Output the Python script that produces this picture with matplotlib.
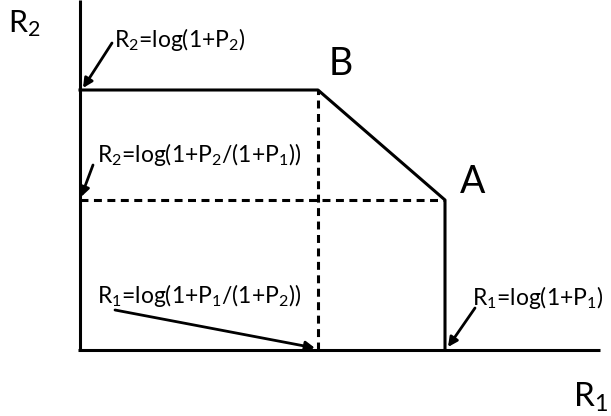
import matplotlib
matplotlib.use("Agg")
import matplotlib.pyplot as plt

plt.rcParams.update({
    'font.family': ['Lato', 'DejaVu Sans'],
    'mathtext.fontset': 'custom',
    'mathtext.rm': 'Lato',
    'mathtext.default': 'regular',
})

# corner points of the rate region (B, A), arbitrary units
corner_names = ['B', 'A']
corner_r1 = [2.38, 3.65]   # log(1+P1/(1+P2)), log(1+P1)
corner_r2 = [2.60, 1.50]   # log(1+P2), log(1+P2/(1+P1))

# bound labels
r2_max_label = 'R$_2$=log(1+P$_2$)'
r2_min_label = 'R$_2$=log(1+P$_2$/(1+P$_1$))'
r1_min_label = 'R$_1$=log(1+P$_1$/(1+P$_2$))'
r1_max_label = 'R$_1$=log(1+P$_1$)'

fig = plt.figure(figsize=(6.11, 4.16), dpi=100)
ax = fig.add_axes([0, 0, 1, 1])
ax.set_xlim(-0.80, 5.31)
ax.set_ylim(-0.66, 3.50)
ax.axis('off')

lw = 2.2
# axes
ax.plot([0, 0], [0, 3.5], color='black', lw=lw, solid_capstyle='butt')
ax.plot([-0.02, 5.2], [0, 0], color='black', lw=lw, solid_capstyle='butt')

# region boundary
bx, ax_ = corner_r1
by, ay = corner_r2
ax.plot([0, bx, ax_, ax_], [by, by, ay, 0], color='black', lw=lw)

# dashed projections
ax.plot([bx, bx], [0, by], color='black', lw=lw, ls=(0, (2.6, 1.8)))
ax.plot([0, ax_], [ay, ay], color='black', lw=lw, ls=(0, (2.6, 1.8)))

# corner names
ax.text(bx + 0.11, by + 0.15, corner_names[0], fontsize=27, va='baseline')
ax.text(ax_ + 0.15, ay + 0.07, corner_names[1], fontsize=27, va='baseline')

# axis labels
ax.text(-0.72, 3.18, 'R$_2$', fontsize=22, va='baseline')
ax.text(4.93, -0.57, 'R$_1$', fontsize=24, va='baseline')

# annotations
fs = 16.5
arrow = dict(arrowstyle='-|>', color='black', lw=2, mutation_scale=14,
             shrinkA=0, shrinkB=0)
ax.text(0.34, 3.03, r2_max_label, fontsize=fs, va='baseline')
ax.annotate('', xy=(0.03, by + 0.02), xytext=(0.32, 3.07), arrowprops=arrow)

ax.text(0.17, 1.88, r2_min_label, fontsize=fs, va='baseline')
ax.annotate('', xy=(0.01, ay + 0.03), xytext=(0.13, 1.85), arrowprops=arrow)

ax.text(0.17, 0.47, r1_min_label, fontsize=fs, va='baseline')
ax.annotate('', xy=(bx - 0.03, 0.02), xytext=(0.35, 0.40), arrowprops=arrow)

ax.text(3.92, 0.45, r1_max_label, fontsize=fs, va='baseline')
ax.annotate('', xy=(ax_ + 0.03, 0.03), xytext=(3.95, 0.42), arrowprops=arrow)

fig.savefig('out.png', dpi=100)
